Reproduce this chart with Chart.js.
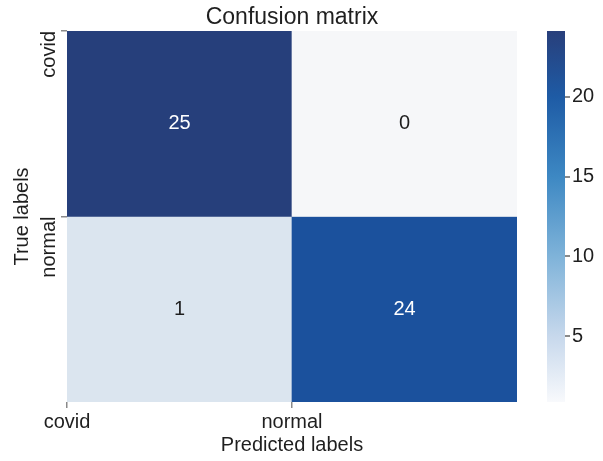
<!DOCTYPE html>
<html>
<head>
<meta charset="utf-8">
<script src="https://cdn.jsdelivr.net/npm/chart.js@4.4.1/dist/chart.umd.min.js"></script>
<style>
  html, body { margin: 0; padding: 0; background: #ffffff; }
  #wrap { position: relative; width: 603px; height: 461px; }
  #wrap canvas { position: absolute; left: 0; top: 0; }
</style>
</head>
<body>
<div id="wrap">
  <canvas id="matrix" width="603" height="461"></canvas>
  <canvas id="colorbar" width="603" height="461"></canvas>
</div>
<script>
// Class names (rows = true label, columns = predicted label)
const classes = ['covid', 'normal'];
// Confusion counts, row by row
const countsCovid = [25, 0];
const countsNormal = [1, 24];
const counts = [countsCovid, countsNormal];
// Colour bar scale
const colorbarTicks = [5, 10, 15, 20];
const colorbarMin = 0.9;
const colorbarMax = 24.1;

const FONT = "'Liberation Sans', Arial, Helvetica, sans-serif";
const TEXT = '#1f1f1f';
const TICK = '#8a8a8a';

// Colour ramp for the cells (value -> colour)
const cellStops = [[0, '#f6f7f9'], [1, '#dbe5ef'], [24, '#1b519d'], [25, '#263f7b']];
// Colour ramp for the colour bar
const barStops = [[colorbarMin, '#f8f9fc'], [5, '#c7d8ec'], [10, '#7fb3d9'],
                  [15, '#3d88c3'], [20, '#1e5ba5'], [colorbarMax, '#283f7b']];

function hexToRgb(h) {
  const n = parseInt(h.slice(1), 16);
  return [(n >> 16) & 255, (n >> 8) & 255, n & 255];
}
function rampColor(stops, v) {
  if (v <= stops[0][0]) return stops[0][1];
  for (let i = 1; i < stops.length; i++) {
    if (v <= stops[i][0]) {
      const [v0, c0] = stops[i - 1], [v1, c1] = stops[i];
      const t = (v - v0) / (v1 - v0);
      const a = hexToRgb(c0), b = hexToRgb(c1);
      const m = a.map((x, k) => Math.round(x + (b[k] - x) * t));
      return `rgb(${m[0]},${m[1]},${m[2]})`;
    }
  }
  return stops[stops.length - 1][1];
}

// Each row is a dataset of floating bars spanning one unit on the y scale
const n = classes.length;
const datasets = counts.map((row, r) => ({
  label: classes[r],
  data: row.map(() => [n - r - 1, n - r]),
  backgroundColor: row.map(v => rampColor(cellStops, v)),
  borderWidth: 0,
  grouped: false,
  barPercentage: 1,
  categoryPercentage: 1
}));

// Writes each count in the middle of its cell
const cellText = {
  id: 'cellText',
  afterDatasetsDraw(chart) {
    const ctx = chart.ctx;
    ctx.save();
    ctx.font = `20px ${FONT}`;
    ctx.textAlign = 'center';
    ctx.textBaseline = 'middle';
    chart.data.datasets.forEach((ds, i) => {
      chart.getDatasetMeta(i).data.forEach((bar, j) => {
        const v = counts[i][j];
        const p = bar.getProps(['x', 'y', 'base'], true);
        ctx.fillStyle = v > 12 ? '#ffffff' : TEXT;
        ctx.fillText(String(v), p.x, (p.y + p.base) / 2);
      });
    });
    ctx.restore();
  }
};

new Chart(document.getElementById('matrix'), {
  type: 'bar',
  data: { labels: classes, datasets },
  plugins: [cellText],
  options: {
    responsive: false,
    animation: false,
    layout: { padding: { left: 0, right: 86, top: 0, bottom: 0 } },
    plugins: {
      legend: { display: false },
      tooltip: { enabled: false }
    },
    scales: {
      x: { display: false },
      // Top axis used only to carry the heading, centred over the cells
      xTop: {
        type: 'linear',
        position: 'top',
        offset: false,
        min: 0,
        max: n,
        afterFit: s => { s.height = 31; },
        ticks: { display: false },
        grid: { display: false },
        border: { display: false },
        title: {
          display: true,
          text: 'Confusion matrix',
          color: TEXT,
          font: { family: FONT, size: 23 },
          padding: { top: 4, bottom: 0 }
        }
      },
      x2: {
        type: 'linear',
        position: 'bottom',
        offset: false,
        min: 0,
        max: n,
        afterBuildTicks: s => { s.ticks = classes.map((c, i) => ({ value: i })); },
        afterFit: s => { s.height = 59; },
        ticks: {
          callback: v => classes[v],
          color: TEXT,
          font: { family: FONT, size: 20 },
          padding: 2,
          maxRotation: 0,
          autoSkip: false
        },
        grid: { offset: false, drawOnChartArea: false, tickLength: 6, color: TICK, lineWidth: 1.5 },
        border: { display: false },
        title: {
          display: true,
          text: 'Predicted labels',
          color: TEXT,
          font: { family: FONT, size: 20 },
          padding: { top: 0, bottom: 4 }
        }
      },
      y: {
        min: 0,
        max: n,
        afterBuildTicks: s => { s.ticks = classes.map((c, i) => ({ value: n - i })); },
        afterFit: s => { s.width = 67; },
        ticks: {
          callback: v => classes[n - v],
          color: TEXT,
          font: { family: FONT, size: 20 },
          padding: 12,
          minRotation: 90,
          maxRotation: 90,
          autoSkip: false
        },
        grid: { drawOnChartArea: false, tickLength: 6, color: TICK, lineWidth: 1.5 },
        border: { display: false },
        title: {
          display: true,
          text: 'True labels',
          color: TEXT,
          font: { family: FONT, size: 20 },
          padding: { top: 10, bottom: 0 }
        }
      }
    }
  }
});

// Colour bar: one floating bar filled with the ramp, with its own value axis
function barGradient(context) {
  const chart = context.chart;
  if (!chart.chartArea) return barStops[0][1];
  const ys = chart.scales.y;
  const y0 = ys.getPixelForValue(colorbarMin), y1 = ys.getPixelForValue(colorbarMax);
  const g = chart.ctx.createLinearGradient(0, y0, 0, y1);
  barStops.forEach(([v, c]) => g.addColorStop((v - colorbarMin) / (colorbarMax - colorbarMin), c));
  return g;
}

new Chart(document.getElementById('colorbar'), {
  type: 'bar',
  data: {
    labels: [''],
    datasets: [{
      data: [[colorbarMin, colorbarMax]],
      backgroundColor: barGradient,
      borderWidth: 0,
      barPercentage: 1,
      categoryPercentage: 1
    }]
  },
  options: {
    responsive: false,
    animation: false,
    layout: { padding: { left: 547, right: 0, top: 31, bottom: 59 } },
    plugins: { legend: { display: false }, tooltip: { enabled: false } },
    scales: {
      x: { display: false },
      y: {
        position: 'right',
        min: colorbarMin,
        max: colorbarMax,
        afterBuildTicks: s => { s.ticks = colorbarTicks.map(v => ({ value: v })); },
        afterFit: s => { s.width = 38; },
        ticks: { color: TEXT, font: { family: FONT, size: 20 }, padding: 2 },
        grid: { drawOnChartArea: false, tickLength: 5, color: TICK, lineWidth: 2 },
        border: { display: false }
      }
    }
  }
});
</script>
</body>
</html>
